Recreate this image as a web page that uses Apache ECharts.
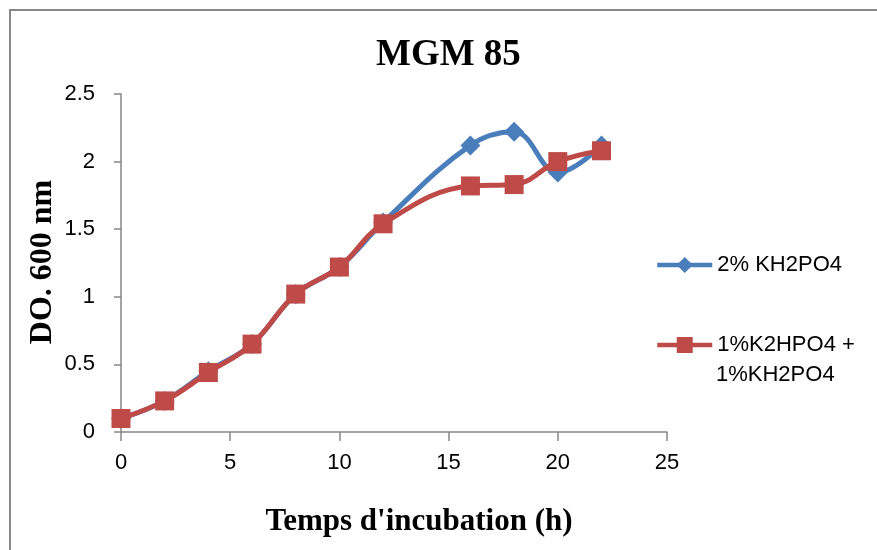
<!DOCTYPE html>
<html>
<head>
<meta charset="utf-8">
<script src="https://cdn.jsdelivr.net/npm/echarts@6/dist/echarts.min.js"></script>
<style>html,body{margin:0;padding:0;background:#fff}#c{width:877px;height:550px}</style>
</head>
<body>
<div id="c"></div>
<script>
const hours = [0, 2, 4, 6, 8, 10, 12, 16, 18, 20, 22];
const seriesA = [0.10, 0.23, 0.45, 0.65, 1.02, 1.22, 1.55, 2.12, 2.22, 1.92, 2.12];
const seriesB = [0.10, 0.23, 0.44, 0.65, 1.02, 1.22, 1.54, 1.82, 1.83, 2.00, 2.08];
const nameA = '2% KH2PO4';
const nameB = '1%K2HPO4 + 1%KH2PO4';
const xTicks = [0, 5, 10, 15, 20, 25];
const yTicks = [0, 0.5, 1, 1.5, 2, 2.5];
const yTitle = 'DO. 600 nm';

const chart = echarts.init(document.getElementById('c'));
const axisCol = '#868686';
const sans = '"Liberation Sans", Arial, sans-serif';
const serif = '"Liberation Serif", "Times New Roman", serif';
const legendCommon = {
  orient: 'vertical', itemWidth: 55, itemHeight: 20,
  lineStyle: { width: 4.5 },
  textStyle: { fontFamily: sans, fontSize: 22, color: '#000' }
};
chart.setOption({
  animation: false,
  title: {
    text: 'MGM 85', left: 371, top: 32,
    textStyle: { fontFamily: serif, fontWeight: 'bold', fontSize: 37, color: '#000' }
  },
  grid: { left: 121, right: 210, top: 94, bottom: 118, containLabel: false },
  legend: [
    Object.assign({ data: [nameA], left: 650, top: 249 }, legendCommon),
    Object.assign({ data: [nameB], left: 650, top: 329, formatter: () => '1%K2HPO4 +' }, legendCommon)
  ],
  graphic: [
    { type: 'rect', shape: { x: 10, y: 10, width: 1000, height: 1000 },
      style: { fill: 'none', stroke: '#888', lineWidth: 2 }, silent: true },
    { type: 'text', left: 716, top: 364,
      style: { text: '1%KH2PO4', font: '22px "Liberation Sans", Arial, sans-serif', fill: '#000' } },
    { type: 'text', x: 43, y: 262, rotation: Math.PI / 2,
      style: { text: yTitle, font: 'bold 32px "Liberation Serif", "Times New Roman", serif', fill: '#000',
               align: 'center', verticalAlign: 'middle' } }
  ],
  xAxis: {
    type: 'value', min: xTicks[0], max: xTicks[xTicks.length - 1], interval: 5,
    name: "Temps d'incubation (h)", nameLocation: 'middle', nameGap: 74, nameMoveOverlap: false,
    nameTextStyle: { fontFamily: serif, fontWeight: 'bold', fontSize: 31, color: '#000', padding: [0, 0, 0, 50] },
    axisLine: { show: true, lineStyle: { color: axisCol, width: 1.5 } },
    axisTick: { show: true, length: 9, lineStyle: { color: axisCol, width: 1.5 } },
    axisLabel: { margin: 20, fontFamily: sans, fontSize: 22, color: '#000' },
    splitLine: { show: false }
  },
  yAxis: {
    type: 'value', min: yTicks[0], max: yTicks[yTicks.length - 1], interval: 0.5,
    axisLine: { show: true, lineStyle: { color: axisCol, width: 1.5 } },
    axisTick: { show: true, length: 7, lineStyle: { color: axisCol, width: 1.5 } },
    axisLabel: { margin: 26, fontFamily: sans, fontSize: 22, color: '#000' },
    splitLine: { show: false }
  },
  series: [
    { name: nameA, type: 'line', smooth: 0.4,
      data: hours.map((h, i) => [h, seriesA[i]]),
      symbol: 'diamond', symbolSize: 20,
      lineStyle: { color: '#4A7EBB', width: 5 },
      itemStyle: { color: '#4A7EBB' } },
    { name: nameB, type: 'line', smooth: 0.4,
      data: hours.map((h, i) => [h, seriesB[i]]),
      symbol: 'rect', symbolSize: 19,
      lineStyle: { color: '#BE4B48', width: 5 },
      itemStyle: { color: '#BE4B48' } }
  ]
});
</script>
</body>
</html>
